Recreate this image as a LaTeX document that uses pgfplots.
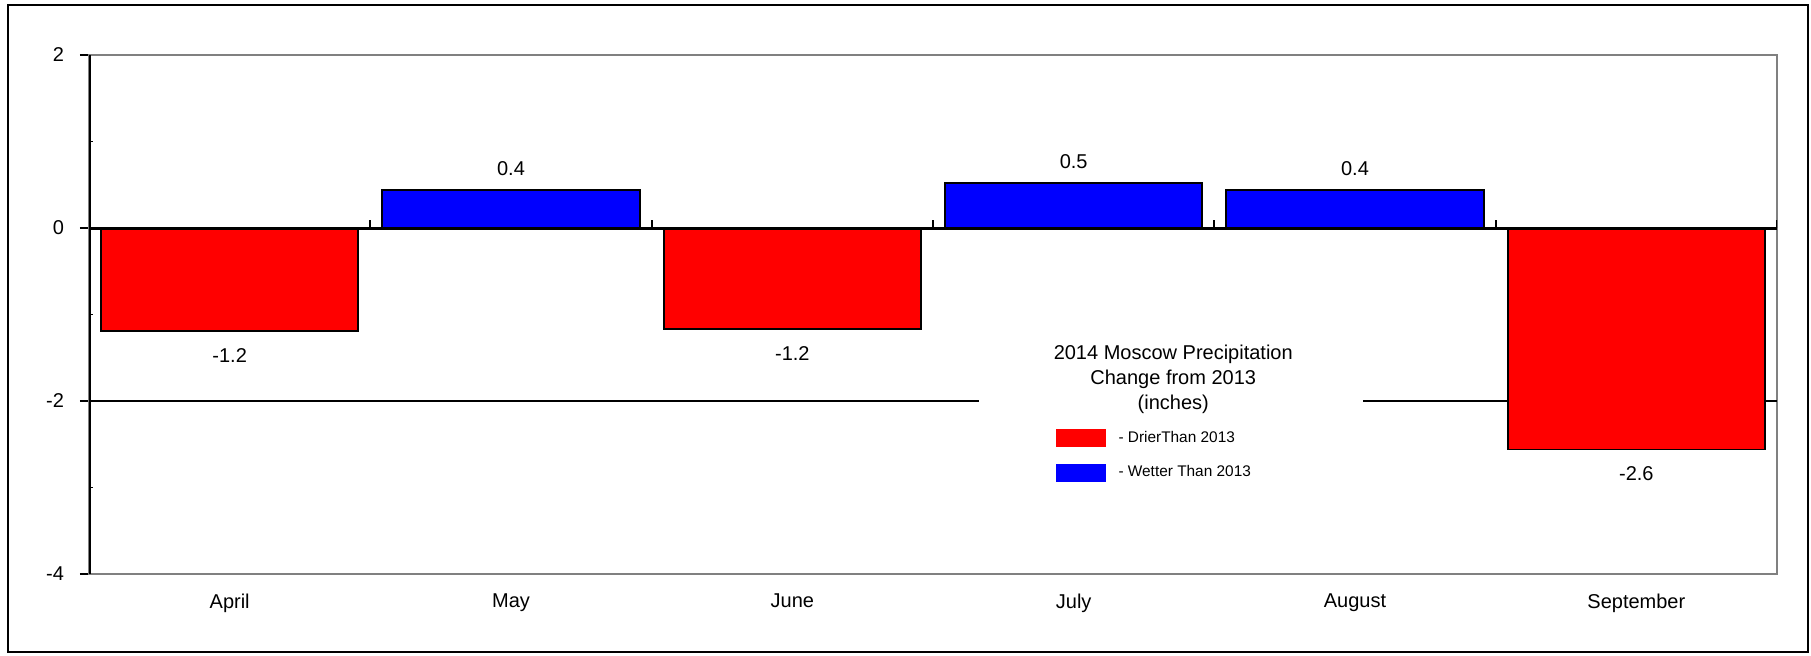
\documentclass[border=0pt]{standalone}
\usepackage{fontspec}
\setmainfont{Liberation Sans}
\usepackage{pgfplots}
\pgfplotsset{compat=1.18}

\begin{document}
\begin{tikzpicture}
\useasboundingbox (0,0) rectangle (905.5pt,327.5pt);
\draw[line width=1pt] (3.9pt,1.5pt) rectangle (904pt,325pt);
\begin{axis}[
  at={(44.5pt,40.5pt)}, anchor=south west,
  scale only axis, width=844pt, height=259.5pt,
  xmin=-0.5, xmax=5.5, ymin=-4, ymax=2,
  axis line style={draw=gray, line width=1pt},
  font=\fontsize{10}{12}\selectfont,
  xtick={0,...,5},
  xticklabels={April,May,June,July,August,September},
  x tick style={draw=none},
  x tick label style={yshift=-2pt},
  ytick={-4,-2,0,2},
  yticklabels={-4,-2,0,2},
  y tick label style={xshift=-4.5pt},
  y tick style={black, line width=1pt},
  tick align=outside, major tick length=4.5pt,
  tick pos=left,
  ybar, bar width=0.915, bar shift=0pt,
  legend style={at={(axis cs:2.934,-2.30)}, anchor=north west,
    draw=none, fill=none, inner sep=0pt, row sep=6pt,
    font=\fontsize{7.7}{9}\selectfont,
    /tikz/every odd column/.append style={column sep=4.5pt}},
  legend cell align=left,
  legend image code/.code={\fill[#1,draw=none] (0pt,-4.5pt) rectangle (25pt,4.5pt);},
]
% gridline at -2, hidden behind the legend box
\draw[black, line width=1pt] (axis cs:-0.5,-2) -- (axis cs:5.5,-2);
\fill[white] (axis cs:2.664,-1.225) rectangle (axis cs:4.029,-3.017);
\node[align=center, font=\fontsize{10}{12.5}\selectfont] at (axis cs:3.354,-1.746)
  {2014 Moscow Precipitation\\Change from 2013\\(inches)};

\addplot[fill=red, draw=black, line width=0.9pt,
  nodes near coords={\pgfmathprintnumber[fixed,fixed zerofill,precision=1,assume math mode=true]{\pgfplotspointmeta}},
  every node near coord/.append style={black, font=\fontsize{10}{12}\selectfont, yshift=-5pt}]
  coordinates {(0,-1.19) (2,-1.17) (5,-2.56)};
\addlegendentry{- DrierThan 2013}
\addplot[fill=blue, draw=black, line width=0.9pt,
  nodes near coords={\pgfmathprintnumber[fixed,fixed zerofill,precision=1,assume math mode=true]{\pgfplotspointmeta}},
  every node near coord/.append style={black, font=\fontsize{10}{12}\selectfont, yshift=3.5pt}]
  coordinates {(1,0.44) (3,0.52) (4,0.44)};
\addlegendentry{- Wetter Than 2013}

% zero line with category stubs, black left axis, minor ticks
\draw[black, line width=1.5pt] (axis cs:-0.5,0) -- (axis cs:5.5,0);
\pgfplotsinvokeforeach{0.5,1.5,2.5,3.5,4.5,5.5}{
  \draw[black, line width=1pt] (axis cs:#1,0) -- ([yshift=4pt]axis cs:#1,0);
}
\draw[black, line width=1.5pt] (axis cs:-0.5,-4) -- (axis cs:-0.5,2);
\pgfplotsinvokeforeach{-3,-1,1}{
  \draw[black, line width=0.8pt] (axis cs:-0.5,#1) -- ([xshift=2pt]axis cs:-0.5,#1);
}
\end{axis}
\end{tikzpicture}
\end{document}
